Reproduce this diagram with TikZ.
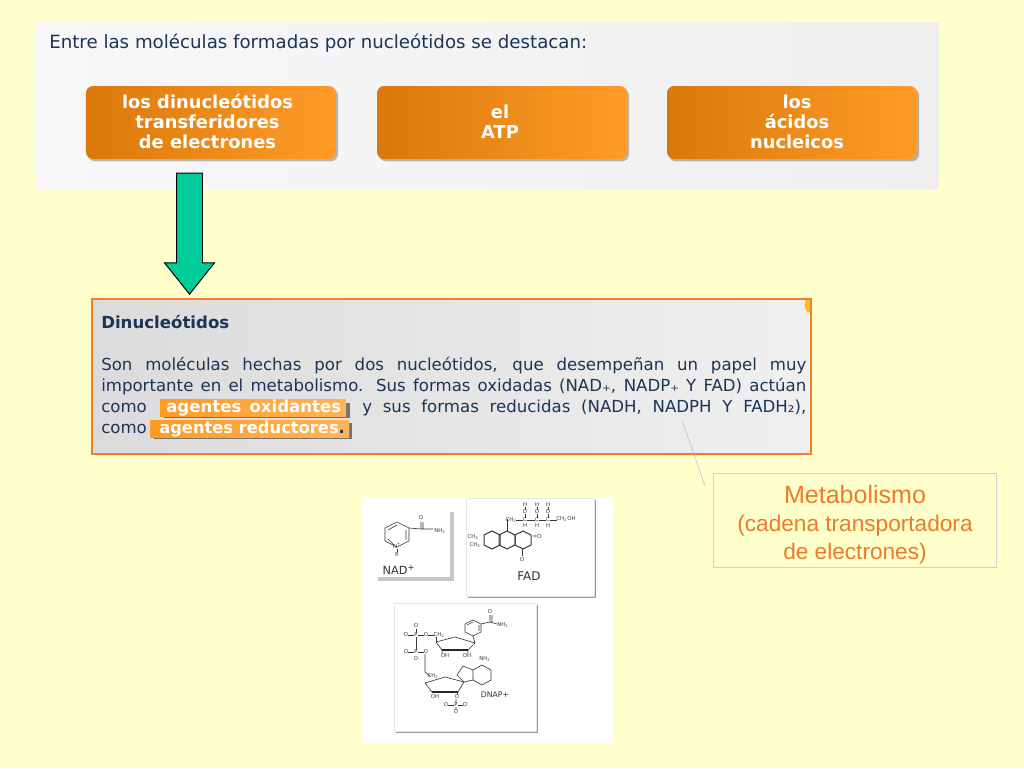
\documentclass[tikz,border=0pt]{standalone}
\usepackage{fontspec}
\setmainfont{DejaVu Sans}
\newfontfamily\arialfont{Liberation Sans}
\usepackage{xcolor}
\definecolor{paperyellow}{RGB}{255, 255, 204}
\definecolor{buttonleft}{RGB}{218, 120, 10}
\definecolor{buttonright}{RGB}{255, 156, 40}
\definecolor{inkblue}{RGB}{28, 52, 88}
\definecolor{arrowgreen}{RGB}{0, 204, 153}
\definecolor{panelorange}{RGB}{240, 128, 40}
\definecolor{noteorange}{RGB}{238, 122, 42}
\definecolor{noteblue}{RGB}{200, 208, 226}
\definecolor{markorange}{RGB}{255, 155, 35}
\definecolor{chemgray}{RGB}{55, 55, 55}
\definecolor{panelleft}{RGB}{248, 248, 250}
\definecolor{panelright}{RGB}{239, 239, 240}
\usepackage{tikz}
\usetikzlibrary{arrows.meta, positioning, calc, shapes.arrows, shadows}
\tikzset{
    orangebutton/.style={rounded corners=5pt, left color=buttonleft, right color=buttonright, inner sep=0pt,
        minimum width=62.5mm, minimum height=18.25mm,
        drop shadow={shadow xshift=0.5mm, shadow yshift=-0.6mm, opacity=0.25, fill=black}},
    buttontext/.style={align=center, text=white, inner sep=0pt, font=\fontsize{12.7}{14.25}\selectfont\bfseries},
    bodyline/.style={anchor=base west, inner sep=0pt, text=inkblue, font=\fontsize{11.8}{13}\selectfont},
    markline/.style={anchor=base west, inner sep=0pt, text=white, font=\fontsize{11.8}{13}\selectfont\bfseries},
    markshadow/.style={fill=black!55},
    card/.style={fill=white, draw=black!10, drop shadow={shadow xshift=0.4mm, shadow yshift=-0.4mm, opacity=0.4, fill=black}},
    bond/.style={draw=chemgray, line width=0.45pt},
    boldbond/.style={draw=black!85, line width=1.2pt},
    atom/.style={inner sep=0pt, text=chemgray, font=\fontsize{3.8}{4}\selectfont},
    chemlabel/.style={inner sep=0pt, text=black!80, font=\fontsize{8}{9}\selectfont}
}
\newcommand{\justline}[2]{\makebox[#1][s]{#2}}

\begin{document}
\begin{tikzpicture}[x=0.25mm, y=-0.25mm, >=Stealth]
    \useasboundingbox (0,0) rectangle (1024,768);
    \fill[paperyellow] (0,0) rectangle (1024,768);

    \shade[left color=panelleft, right color=panelright] (36,22) rectangle (939,188);
    \node[bodyline, font=\fontsize{12.95}{14}\selectfont] (heading) at (49,48) {Entre las moléculas formadas por nucleótidos se destacan:};

    \node[orangebutton] (dinucleotidos) at (211,122.5) {};
    \node[orangebutton] (atp) at (502,122.5) {};
    \node[orangebutton] (acidos) at (792,122.5) {};
    \node[buttontext] (dinucleotidostxt) at (207.5,121.5) {los dinucleótidos\\transferidores\\de electrones};
    \node[buttontext] (atptxt) at (500,121.5) {el\\ATP};
    \node[buttontext] (acidostxt) at (797,121.5) {los\\ácidos\\nucleicos};

    \shade[left color=black!14, right color=black!6, draw=panelorange, line width=0.5mm] (92,299) rectangle (811,454);
    \fill[markorange!70!yellow] (810,300) -- (806,300) .. controls (803,306) and (805,312) .. (810,313) -- cycle;

    \node[single arrow, draw=black, fill=arrowgreen, rotate=-90, inner sep=0pt, line width=0.7pt,
        minimum height=30.25mm, single arrow head extend=3mm, anchor=tip,
        single arrow tip angle=77, single arrow head indent=0pt] (flecha) at (189.5,295) {\rule{0pt}{6.25mm}};

    \node[bodyline, font=\fontsize{11.8}{13}\selectfont\bfseries] (titulo) at (101,328) {Dinucleótidos};
    \node[bodyline] (linea1) at (101,370) {\justline{176.25mm}{Son moléculas hechas por dos nucleótidos, que desempeñan un papel muy}};
    \node[bodyline] (linea2) at (101,391) {\justline{176.25mm}{importante en el metabolismo. Sus formas oxidadas (NAD₊, NADP₊ Y FAD) actúan}};
    \node[bodyline] (linea3a) at (101,412) {como};
    \node[bodyline] (linea3b) at (362,412) {\justline{111mm}{y sus formas reducidas (NADH, NADPH Y FADH₂),}};
    \node[bodyline] (linea4) at (101,433) {como};

    \fill[markshadow] (164,403) rectangle (350,418);
    \shade[left color=markorange, right color=markorange!75!white] (160,399) rectangle (346,416);
    \node[markline] (oxidantes) at (166,412) {\justline{43.75mm}{agentes oxidantes}};
    \fill[markshadow] (154,423) rectangle (352,439);
    \shade[left color=markorange, right color=markorange!75!white] (150,420) rectangle (349,437);
    \node[markline, font=\fontsize{11.6}{13}\selectfont\bfseries] (reductores) at (159,433) {agentes reductores\textcolor{inkblue}{.}};

    \coordinate (notaini) at (682,420);
    \coordinate (notafin) at (705,486);
    \draw[noteblue!80!violet, line width=0.3pt] (notaini) -- (notafin);

    \node[draw=noteblue, fill=paperyellow, line width=0.2mm, minimum width=70.75mm, minimum height=23.5mm,
        inner sep=0pt] (metabolismo) at (854.5,520) {};
    \node[align=center, inner sep=0pt, text=noteorange, font=\arialfont\fontsize{16.1}{20}\selectfont] (metabolismotxt) at (855,525)
        {\fontsize{17.8}{21}\selectfont Metabolismo\\(cadena transportadora\\de electrones)};

    \fill[white] (362,497) rectangle (613,743);

    \filldraw[fill=white, draw=none, drop shadow={shadow xshift=1mm, shadow yshift=-1mm, opacity=0.22, fill=black}] (374,508) rectangle (450,577);
    \draw[bond] (385,528) -- (397,522) -- (409,528) -- (409,541) -- (397,547) -- (385,541) -- cycle;
    \draw[bond] (388,530) -- (397,525) (406,530) -- (406,539) (388,539) -- (394,545);
    \draw[bond] (409,528) -- (421,529) -- (421,522) (423,529) -- (423,522) (421,529) -- (433,529);
    \node[atom] (nadO) at (421,518) {O};
    \node[atom] (nadNH) at (440,531) {NH\textsubscript{2}};
    \node[atom] (nadN) at (397,546) {N\textsuperscript{+}};
    \draw[bond] (397,549) -- (397,552);
    \node[atom] (nadR) at (397,555) {R};
    \node[chemlabel] (nadlabel) at (399,570) {NAD\textsuperscript{+}};

    \filldraw[card] (466,498) rectangle (594,596);
    \foreach \cx in {525,537,548} {
        \node[atom] at (\cx,505) {H};
        \node[atom] at (\cx,512) {O};
        \node[atom] at (\cx,520) {C};
        \node[atom] at (\cx,526) {H};
        \draw[bond] (\cx,507) -- (\cx,510) (\cx,514) -- (\cx,518);
    }
    \draw[bond] (516,520) -- (523,520) (527,520) -- (535,520) (539,520) -- (546,520) (550,520) -- (557,520);
    \node[atom] (fadch) at (511,520) {CH\textsubscript{2}};
    \node[atom] (fadoh) at (566,519) {CH\textsubscript{2}OH};
    \draw[bond] (507,519) -- (507,532);
    \foreach \cx in {492,507,523} {
        \draw[bond, line width=0.7pt] (\cx-8,535) -- (\cx,531) -- (\cx+8,535) -- (\cx+8,545) -- (\cx,549) -- (\cx-8,545) -- cycle;
    }
    \node[atom] (fadch1) at (473,537) {CH\textsubscript{3}};
    \node[atom] (fadch2) at (475,545) {CH\textsubscript{3}};
    \node[atom] (fadn) at (537,537) {=O};
    \draw[bond] (522,549) -- (522,556);
    \node[atom] (fado) at (522,560) {O};
    \node[chemlabel, font=\fontsize{8.5}{9}\selectfont] (fadlabel) at (529,576) {FAD};

    \filldraw[card] (394,603) rectangle (536,731);
    \draw[bond] (465,624) -- (473,620) -- (481,624) -- (481,632) -- (473,636) -- (465,632) -- cycle;
    \draw[bond] (467,625) -- (473,622) (479,625) -- (479,631);
    \draw[bond] (481,624) -- (490,622) -- (490,615) (492,622) -- (492,615) (490,622) -- (497,624);
    \node[atom] (dnapO) at (490,612) {O};
    \node[atom] (dnapNH) at (503,625) {NH\textsubscript{2}};
    \draw[bond] (436,642) -- (455,637) -- (475,643) (475,643) -- (473,636);
    \draw[bond] (436,642) -- (442,650) (475,643) -- (468,650) (442,650) -- (442,653) (468,650) -- (468,653);
    \draw[boldbond] (442,650) -- (468,650);
    \node[atom] (dnapoh1) at (445,656) {OH};
    \node[atom] (dnapoh2) at (467,656) {OH};
    \foreach \py/\pl in {635/O,652/O} {
        \node[atom] at (406,\py) {O};
        \node[atom] at (416,\py) {P};
        \node[atom] at (426,\py) {\pl};
        \draw[bond] (408,\py) -- (414,\py) (418,\py) -- (424,\py);
    }
    \node[atom] (dnapo1) at (417,626) {O\textsuperscript{-}};
    \node[atom] (dnapo2) at (417,659) {O\textsuperscript{-}};
    \node[atom] (dnapch1) at (439,635) {CH\textsubscript{2}};
    \draw[bond] (428,635) -- (434,635) (416,637) -- (416,650) (416,629) -- (416,633) (436,637) -- (436,642);
    \draw[bond] (425,654) -- (425,672) -- (430,676);
    \node[atom] (dnapch2) at (433,676) {CH\textsubscript{2}};
    \draw[bond] (425,683) -- (445,677) -- (464,682) -- (458,692) (425,683) -- (432,692);
    \draw[boldbond] (432,692) -- (458,692);
    \node[atom] (dnapoh3) at (435,697) {OH};
    \draw[bond] (458,692) -- (457,695) (456,699) -- (456,703) (456,707) -- (456,710);
    \node[atom] (dnapo3) at (457,697) {O};
    \node[atom] (dnapp) at (456,705) {P};
    \node[atom] (dnapo4) at (446,705) {O};
    \node[atom] (dnapo5) at (466,705) {O\textsuperscript{-}};
    \node[atom] (dnapo6) at (456,712) {O};
    \draw[bond] (448,705) -- (454,705) (458,705) -- (463,705);
    \draw[bond] (482,665) -- (491,670) -- (491,680) -- (482,685) -- (473,680) -- (473,670) -- cycle;
    \draw[bond] (473,670) -- (463,666) -- (457,675) -- (464,682) -- (473,680);
    \node[atom] (dnapnh2) at (485,659) {NH\textsubscript{2}};
    \node[chemlabel, font=\fontsize{5.5}{6}\selectfont] (dnaplabel) at (495,695) {DNAP+};
\end{tikzpicture}
\end{document}
